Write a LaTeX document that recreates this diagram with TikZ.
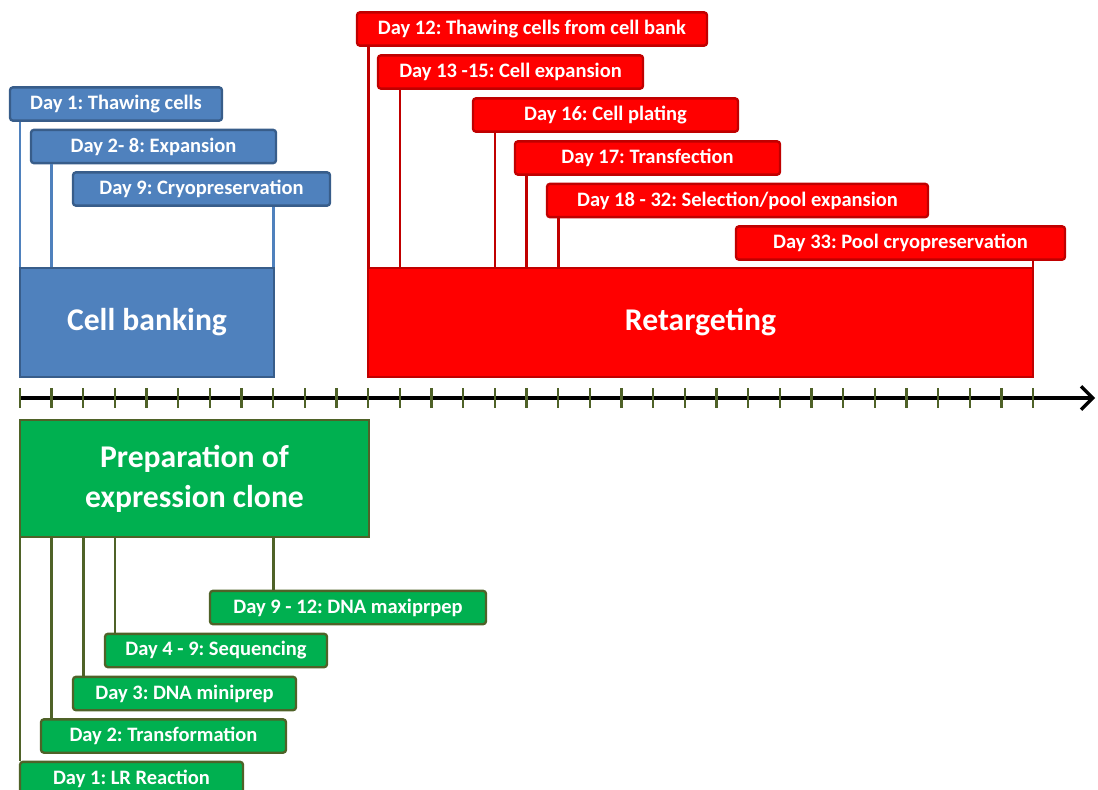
\documentclass[tikz,border=0pt]{standalone}
\usepackage{fontspec}
\setmainfont{Carlito}
\usetikzlibrary{arrows.meta}
\definecolor{cbfill}{RGB}{79,129,189}
\definecolor{cbdraw}{RGB}{56,93,138}
\definecolor{rtfill}{RGB}{255,0,0}
\definecolor{rtdraw}{RGB}{192,0,0}
\definecolor{prfill}{RGB}{0,176,80}
\definecolor{prdraw}{RGB}{79,98,40}
\frenchspacing

\begin{document}
\begin{tikzpicture}[x=0.03cm, y=-0.03cm,
        stage/.style={rectangle,rounded corners=2.5pt,line width=2pt,text=white,
          minimum height=1cm,inner sep=0pt,font=\fontsize{17.5}{20}\selectfont\bfseries},
        phase/.style={rectangle,line width=2pt,text=white,align=center,
          inner sep=0pt,font=\fontsize{27}{34}\selectfont\bfseries},
        blue/.style={fill=cbfill,draw=cbdraw},
        red/.style={fill=rtfill,draw=rtdraw},
        green/.style={fill=prfill,draw=prdraw},
        bline/.style={draw=cbfill,line width=2.2pt},
        rline/.style={draw=rtdraw,line width=2.2pt},
        gline/.style={draw=prdraw,line width=2.2pt}]
        \useasboundingbox (0,0) rectangle (1098,790);
        % one coordinate per day on the time axis
        \foreach \d in {1,...,33}
          \coordinate (t\d) at ({20+(\d-1)*31.66},398);
        \coordinate (tend) at (1095,398);

        % cell banking
        \node[phase,blue,minimum width=7.62cm,minimum height=3.27cm] (cb) at (147,322.5) {Cell banking};
        \node[stage,blue,minimum width=6.36cm] (bd1) at (116,104) {Day 1: Thawing cells};
        \node[stage,blue,minimum width=7.35cm] (bd2) at (153.5,146.5) {Day 2- 8: Expansion};
        \node[stage,blue,minimum width=7.71cm] (bd9) at (201.5,189) {Day 9: Cryopreservation};
        \draw[bline] (bd1.south -| t1) -- (cb.north -| t1);
        \draw[bline] (bd2.south -| t2) -- (cb.north -| t2);
        \draw[bline] (bd9.south -| t9) -- (cb.north -| t9);

        % retargeting
        \node[phase,red,minimum width=19.95cm,minimum height=3.27cm] (rt) at (700.5,322.5) {Retargeting};
        \node[stage,red,minimum width=10.5cm] (rd12) at (532,29) {Day 12: Thawing cells from cell bank};
        \node[stage,red,minimum width=7.95cm] (rd13) at (510.5,72) {Day 13 -15: Cell expansion};
        \node[stage,red,minimum width=7.95cm] (rd16) at (605.5,115) {Day 16: Cell plating};
        \node[stage,red,minimum width=7.95cm] (rd17) at (647.5,158) {Day 17: Transfection};
        \node[stage,red,minimum width=11.43cm] (rd18) at (737.5,200.5) {Day 18 - 32: Selection/pool expansion};
        \node[stage,red,minimum width=9.87cm] (rd33) at (900.5,243) {Day 33: Pool cryopreservation};
        \draw[rline] (rd12.south -| t12) -- (rt.north -| t12);
        \draw[rline] (rd13.south -| t13) -- (rt.north -| t13);
        \draw[rline] (rd16.south -| t16) -- (rt.north -| t16);
        \draw[rline] (rd17.south -| t17) -- (rt.north -| t17);
        \draw[rline] (rd18.south -| t18) -- (rt.north -| t18);
        \draw[rline] (rd33.south -| t33) -- (rt.north -| t33);

        % time axis
        \draw[line width=3.5pt,-{Straight Barb[length=10pt,width=20pt,line width=2.8pt]}] (t1) -- (tend);
        \foreach \d in {1,...,33}
          \draw[prdraw,line width=2pt] ([yshift=0.3cm]t\d) -- ([yshift=-0.3cm]t\d);

        % preparation of expression clone
        \node[phase,green,minimum width=10.47cm,minimum height=3.51cm] (pr) at (194.5,478.5) {Preparation of\\expression clone};
        \node[stage,green,minimum width=8.28cm] (gd9) at (348,607.5) {Day 9 - 12: DNA maxiprpep};
        \node[stage,green,minimum width=6.66cm] (gd4) at (216,650.5) {Day 4 - 9: Sequencing};
        \node[stage,green,minimum width=6.69cm] (gd3) at (184.5,693.5) {Day 3: DNA miniprep};
        \node[stage,green,minimum width=7.35cm] (gd2) at (163.5,736) {Day 2: Transformation};
        \node[stage,green,minimum width=6.69cm] (gd1) at (131.5,778.5) {Day 1: LR Reaction};
        \draw[gline] (pr.south -| t1) -- (gd1.north -| t1);
        \draw[gline] (pr.south -| t2) -- (gd2.north -| t2);
        \draw[gline] (pr.south -| t3) -- (gd3.north -| t3);
        \draw[gline] (pr.south -| t4) -- (gd4.north -| t4);
        \draw[gline] (pr.south -| t9) -- (gd9.north -| t9);
      \end{tikzpicture}
\end{document}
